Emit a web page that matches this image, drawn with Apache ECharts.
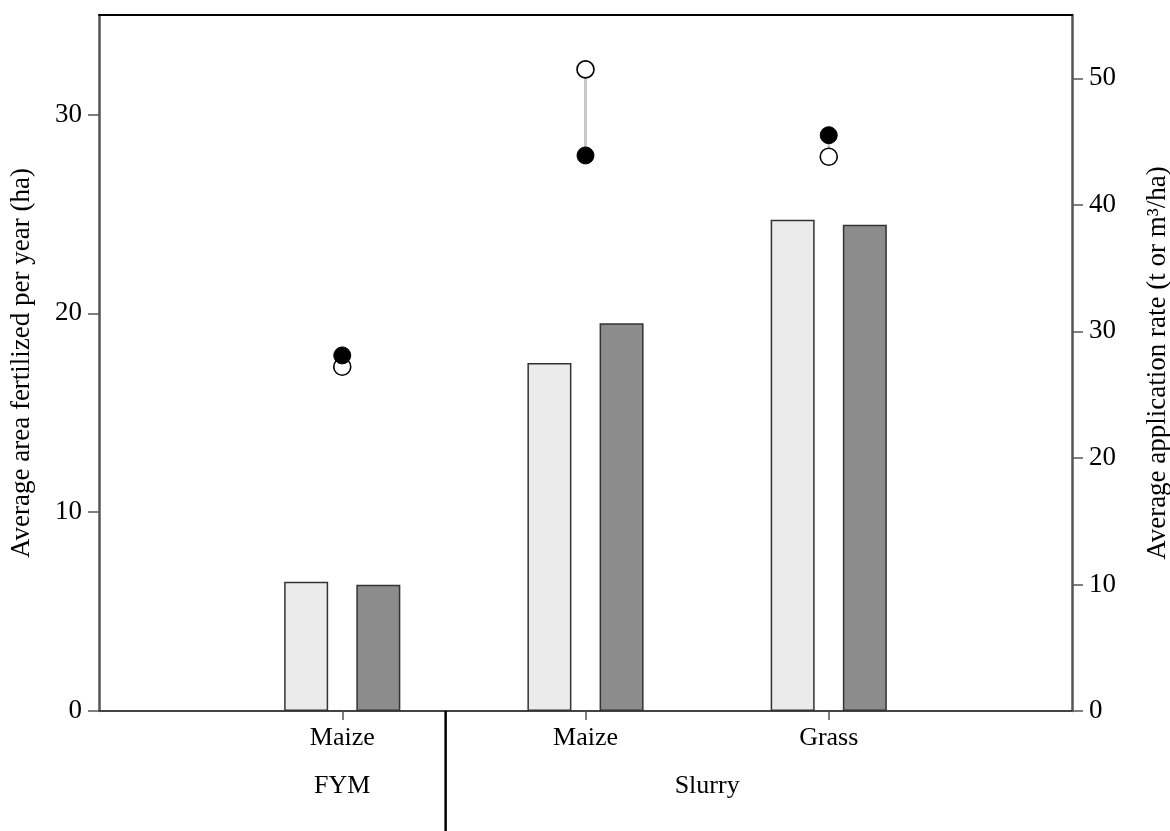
<!DOCTYPE html>
<html>
<head>
<meta charset="utf-8">
<script src="https://cdn.jsdelivr.net/npm/echarts@6/dist/echarts.min.js"></script>
<style>html,body{margin:0;padding:0;background:#fff}#c{width:1170px;height:831px}</style>
</head>
<body>
<div id="c"></div>
<script>
// ---- data ----
var slots = ['start', 'FYM Maize', 'Slurry Maize', 'Slurry Grass', 'end'];
var cropLabels = ['', 'Maize', 'Maize', 'Grass', ''];
var groupLabels = ['FYM', 'Slurry'];
var groupCenters = [1, 2.5];
var dividerAt = 1.425;
var areaLight = [null, 6.5, 17.5, 24.7, null];   // left axis (ha)
var areaDark  = [null, 6.35, 19.5, 24.45, null];
var rateOpen   = [null, 27.2, 50.7, 43.8, null]; // right axis (t or m3/ha)
var rateFilled = [null, 28.1, 43.9, 45.5, null];
var leftTicks = {min: 0, max: 35, interval: 10};
var rightTicks = {min: 0, max: 55, interval: 10};

var FONT = 'Liberation Serif';
var chart = echarts.init(document.getElementById('c'));

function pts(arr) {
  var out = [];
  arr.forEach(function (v, i) { if (v != null) out.push([i, v]); });
  return out;
}
var linkData = [];
rateOpen.forEach(function (v, i) { if (v != null) linkData.push([i, v, rateFilled[i]]); });

var option = {
  animation: false,
  grid: {left: 99, right: 98, top: 15, bottom: 120, containLabel: false, outerBoundsMode: 'none'},
  xAxis: [
    {
      type: 'category', data: slots, boundaryGap: false,
      axisLine: {onZero: false, lineStyle: {color: '#444', width: 2}},
      axisTick: {length: 9, lineStyle: {color: '#555', width: 1.5},
        interval: function (i) { return i >= 1 && i <= 3; }},
      axisLabel: {interval: 0, margin: 14, color: '#000', fontFamily: FONT, fontSize: 26,
        formatter: function (v, i) { return cropLabels[i]; }},
      splitLine: {show: false}
    },
    {
      type: 'value', min: 0, max: 4, interval: 0.5, position: 'bottom', offset: 54,
      axisLine: {show: false, onZero: false}, axisTick: {show: false}, splitLine: {show: false},
      axisLabel: {color: '#000', fontFamily: FONT, fontSize: 26, showMinLabel: false, showMaxLabel: false,
        formatter: function (v) {
          var k = groupCenters.indexOf(v);
          return k >= 0 ? groupLabels[k] : '';
        }}
    },
    {
      type: 'value', min: 0, max: 4, position: 'top',
      axisLine: {show: true, onZero: false, lineStyle: {color: '#000', width: 2}},
      axisTick: {show: false}, axisLabel: {show: false}, splitLine: {show: false}
    }
  ],
  yAxis: [
    {
      type: 'value', min: leftTicks.min, max: leftTicks.max, interval: leftTicks.interval,
      position: 'left',
      name: 'Average area fertilized per year (ha)', nameLocation: 'middle', nameGap: 64, nameRotate: 90,
      nameTextStyle: {color: '#000', fontFamily: FONT, fontSize: 27},
      axisLine: {show: true, onZero: false, lineStyle: {color: '#555', width: 2.5}},
      axisTick: {show: true, length: 11, lineStyle: {color: '#555', width: 1.5}},
      axisLabel: {color: '#000', fontFamily: FONT, fontSize: 27, margin: 17, showMaxLabel: false},
      splitLine: {show: false}
    },
    {
      type: 'value', min: rightTicks.min, max: rightTicks.max, interval: rightTicks.interval,
      position: 'right',
      name: 'Average application rate (t or m³/ha)', nameLocation: 'middle', nameGap: 72, nameRotate: 90,
      nameTextStyle: {color: '#000', fontFamily: FONT, fontSize: 27},
      axisLine: {show: true, onZero: false, lineStyle: {color: '#555', width: 2.5}},
      axisTick: {show: true, length: 11, lineStyle: {color: '#555', width: 1.5}},
      axisLabel: {color: '#000', fontFamily: FONT, fontSize: 27, margin: 17, showMaxLabel: false},
      splitLine: {show: false}
    }
  ],
  series: [
    {
      type: 'bar', xAxisIndex: 0, yAxisIndex: 0, data: areaLight,
      barWidth: 44, barGap: '64%',
      itemStyle: {color: '#ebebeb', borderColor: '#333', borderWidth: 1.5}
    },
    {
      type: 'bar', xAxisIndex: 0, yAxisIndex: 0, data: areaDark,
      barWidth: 44, barGap: '64%',
      itemStyle: {color: '#8c8c8c', borderColor: '#333', borderWidth: 1.5}
    },
    {
      type: 'custom', xAxisIndex: 0, yAxisIndex: 1, data: linkData, z: 3,
      renderItem: function (params, api) {
        var a = api.coord([api.value(0), api.value(1)]);
        var b = api.coord([api.value(0), api.value(2)]);
        return {type: 'line', shape: {x1: a[0], y1: a[1], x2: b[0], y2: b[1]},
          style: {stroke: '#c8c8c8', lineWidth: 3}};
      }
    },
    {
      type: 'scatter', xAxisIndex: 0, yAxisIndex: 1, data: pts(rateOpen), z: 4,
      symbol: 'circle', symbolSize: 17,
      itemStyle: {color: '#fff', borderColor: '#000', borderWidth: 1.6, opacity: 1}
    },
    {
      type: 'scatter', xAxisIndex: 0, yAxisIndex: 1, data: pts(rateFilled), z: 5,
      symbol: 'circle', symbolSize: 17,
      itemStyle: {color: '#000', borderColor: '#000', borderWidth: 1, opacity: 1}
    }
  ]
};
chart.setOption(option);

var dx = chart.convertToPixel({xAxisIndex: 1}, dividerAt);
var dy = chart.convertToPixel({yAxisIndex: 0}, 0);
chart.setOption({
  graphic: [{
    type: 'line', z: 10,
    shape: {x1: dx, y1: dy, x2: dx, y2: 831},
    style: {stroke: '#000', lineWidth: 2.5}
  }]
});
</script>
</body>
</html>
